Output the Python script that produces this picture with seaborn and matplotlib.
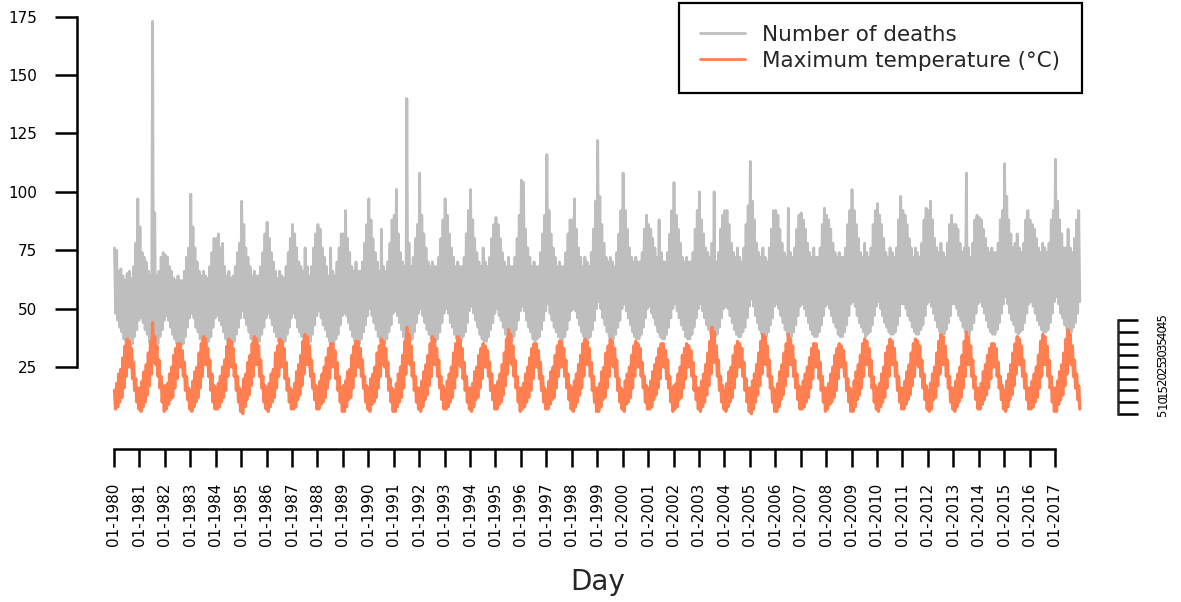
import pandas as pd
import matplotlib
matplotlib.use("Agg")
import matplotlib.pyplot as plt
import matplotlib.dates as mdates
from matplotlib.lines import Line2D
import seaborn as sns

# ---------------------------------------------------------------------------
# Daily series summarised per month: upper / lower envelope of each month
# (Jan..Dec), one row per year 1980-2017.
# ---------------------------------------------------------------------------
years = list(range(1980, 2018))

deaths_high = [
    [76, 75, 66, 67, 64, 62, 65, 66, 63, 68, 78, 97],
    [85, 74, 72, 70, 66, 64, 173, 91, 64, 66, 72, 74],
    [73, 72, 68, 66, 63, 62, 64, 62, 62, 66, 72, 76],
    [99, 85, 76, 70, 66, 64, 66, 64, 63, 68, 74, 80],
    [80, 82, 76, 78, 68, 64, 66, 63, 64, 68, 74, 78],
    [96, 86, 76, 72, 68, 64, 66, 64, 64, 68, 74, 82],
    [87, 80, 74, 70, 66, 63, 66, 64, 63, 68, 74, 80],
    [86, 82, 76, 70, 68, 66, 76, 68, 64, 68, 76, 82],
    [86, 84, 76, 72, 68, 64, 76, 66, 64, 70, 76, 82],
    [82, 92, 80, 74, 68, 66, 70, 66, 66, 70, 78, 86],
    [97, 88, 80, 74, 70, 66, 84, 68, 66, 70, 78, 88],
    [90, 101, 82, 74, 70, 68, 140, 78, 68, 72, 80, 86],
    [108, 90, 82, 76, 70, 68, 70, 68, 68, 72, 80, 88],
    [97, 90, 82, 76, 72, 68, 70, 68, 68, 72, 82, 92],
    [101, 88, 80, 74, 70, 68, 76, 70, 68, 72, 80, 86],
    [89, 86, 80, 74, 70, 68, 72, 68, 68, 72, 80, 90],
    [105, 104, 84, 76, 72, 68, 70, 68, 68, 74, 82, 90],
    [116, 92, 82, 76, 72, 68, 70, 68, 68, 74, 82, 88],
    [88, 97, 84, 76, 72, 68, 72, 70, 68, 74, 84, 96],
    [122, 98, 86, 78, 72, 70, 72, 70, 68, 74, 82, 92],
    [108, 92, 84, 76, 72, 70, 72, 70, 70, 74, 84, 90],
    [86, 84, 80, 76, 72, 88, 74, 70, 70, 74, 82, 92],
    [104, 90, 84, 78, 72, 70, 72, 70, 70, 74, 84, 92],
    [100, 88, 82, 76, 74, 72, 78, 100, 70, 74, 84, 90],
    [92, 92, 86, 78, 74, 72, 76, 72, 70, 76, 86, 94],
    [113, 96, 88, 78, 74, 72, 76, 72, 70, 76, 84, 92],
    [92, 90, 84, 78, 74, 72, 93, 74, 72, 76, 84, 90],
    [91, 88, 84, 78, 74, 72, 76, 72, 72, 76, 86, 93],
    [90, 88, 84, 78, 74, 72, 74, 72, 72, 76, 86, 92],
    [101, 92, 86, 80, 74, 72, 78, 74, 72, 76, 86, 92],
    [95, 90, 86, 80, 74, 72, 76, 74, 72, 76, 88, 98],
    [92, 90, 86, 80, 76, 72, 76, 74, 72, 78, 88, 93],
    [92, 96, 88, 80, 76, 74, 78, 74, 72, 78, 86, 90],
    [86, 86, 84, 78, 74, 76, 108, 76, 72, 78, 88, 90],
    [89, 88, 84, 80, 76, 74, 76, 74, 74, 78, 88, 92],
    [112, 98, 88, 82, 76, 78, 82, 76, 74, 78, 88, 92],
    [88, 86, 84, 80, 76, 74, 78, 76, 74, 78, 88, 92],
    [114, 96, 88, 82, 76, 76, 84, 76, 74, 80, 88, 92],
]

deaths_low = [
    [48, 45, 42, 40, 37, 35, 33, 34, 35, 38, 41, 45],
    [46, 44, 41, 39, 36, 34, 33, 33, 35, 38, 41, 45],
    [47, 45, 42, 39, 37, 35, 34, 34, 35, 38, 42, 46],
    [48, 46, 42, 40, 37, 35, 34, 34, 36, 38, 42, 46],
    [47, 45, 43, 40, 37, 35, 34, 34, 36, 39, 42, 46],
    [49, 46, 43, 40, 37, 35, 34, 35, 36, 39, 42, 46],
    [48, 46, 43, 40, 38, 36, 34, 35, 36, 39, 42, 46],
    [48, 46, 42, 40, 38, 36, 35, 35, 36, 39, 43, 47],
    [49, 46, 43, 41, 38, 36, 35, 35, 37, 39, 43, 47],
    [48, 47, 44, 41, 38, 36, 35, 35, 37, 40, 43, 47],
    [50, 47, 44, 41, 38, 36, 35, 35, 37, 40, 43, 48],
    [49, 47, 44, 41, 38, 36, 36, 36, 37, 40, 44, 48],
    [50, 47, 44, 41, 39, 37, 36, 36, 37, 40, 44, 48],
    [50, 48, 44, 42, 39, 37, 36, 36, 38, 40, 44, 49],
    [51, 48, 45, 42, 39, 37, 36, 36, 38, 41, 44, 48],
    [50, 47, 45, 42, 39, 37, 36, 36, 38, 41, 45, 49],
    [51, 49, 45, 42, 40, 37, 36, 37, 38, 41, 45, 49],
    [52, 48, 45, 42, 40, 38, 37, 37, 38, 41, 45, 49],
    [50, 49, 46, 43, 40, 38, 37, 37, 38, 41, 45, 50],
    [53, 50, 46, 43, 40, 38, 37, 37, 39, 42, 45, 50],
    [52, 49, 46, 43, 40, 38, 37, 37, 39, 42, 46, 50],
    [51, 48, 46, 43, 40, 38, 37, 37, 39, 42, 46, 50],
    [52, 49, 46, 43, 41, 38, 37, 37, 39, 42, 46, 50],
    [52, 49, 46, 43, 41, 39, 38, 38, 39, 42, 46, 50],
    [51, 50, 47, 44, 41, 39, 38, 38, 40, 42, 46, 51],
    [54, 51, 47, 44, 41, 39, 38, 38, 40, 43, 46, 51],
    [52, 50, 47, 44, 41, 39, 38, 38, 40, 43, 47, 51],
    [52, 50, 47, 44, 41, 39, 38, 38, 40, 43, 47, 51],
    [52, 50, 47, 44, 42, 39, 38, 38, 40, 43, 47, 52],
    [53, 51, 47, 44, 42, 40, 38, 39, 40, 43, 47, 51],
    [53, 50, 47, 44, 42, 40, 39, 39, 40, 43, 47, 52],
    [52, 50, 47, 45, 42, 40, 39, 39, 41, 43, 47, 52],
    [53, 51, 48, 45, 42, 40, 39, 39, 41, 44, 47, 52],
    [52, 50, 47, 45, 42, 40, 39, 39, 41, 44, 48, 52],
    [53, 51, 48, 45, 42, 40, 39, 39, 41, 44, 48, 52],
    [55, 52, 48, 45, 43, 40, 39, 40, 41, 44, 48, 52],
    [53, 51, 48, 45, 43, 41, 40, 40, 41, 44, 48, 53],
    [55, 52, 48, 46, 43, 41, 40, 40, 42, 44, 48, 53],
]

tmax_high = [
    [15, 18, 22, 24, 29, 34, 37, 36, 33, 27, 20, 16],
    [16, 19, 23, 26, 31, 36, 44, 38, 34, 28, 21, 17],
    [17, 18, 22, 25, 30, 33, 35, 35, 32, 27, 21, 16],
    [15, 19, 23, 25, 31, 35, 38, 37, 33, 28, 22, 17],
    [16, 18, 21, 25, 28, 34, 37, 36, 33, 26, 21, 16],
    [15, 20, 22, 27, 30, 35, 38, 37, 34, 28, 21, 17],
    [16, 18, 22, 24, 31, 34, 37, 36, 33, 27, 20, 16],
    [15, 18, 23, 26, 30, 36, 39, 38, 34, 28, 22, 17],
    [16, 19, 22, 25, 29, 33, 35, 35, 32, 27, 21, 16],
    [17, 19, 23, 24, 30, 34, 36, 36, 33, 28, 21, 17],
    [16, 20, 22, 25, 31, 34, 37, 36, 33, 27, 20, 16],
    [15, 18, 22, 25, 30, 36, 42, 39, 34, 27, 21, 16],
    [16, 19, 23, 26, 30, 35, 38, 37, 33, 28, 21, 17],
    [15, 19, 22, 25, 31, 35, 38, 37, 33, 27, 21, 16],
    [16, 18, 23, 25, 30, 33, 35, 34, 32, 27, 22, 17],
    [17, 19, 22, 26, 31, 37, 41, 39, 34, 28, 21, 16],
    [16, 18, 22, 25, 29, 33, 35, 35, 32, 27, 21, 16],
    [15, 19, 23, 25, 30, 34, 36, 36, 33, 28, 22, 17],
    [16, 19, 22, 26, 30, 35, 37, 36, 33, 27, 21, 16],
    [16, 18, 23, 25, 31, 34, 37, 36, 33, 28, 20, 16],
    [15, 19, 22, 25, 30, 34, 36, 35, 33, 27, 21, 17],
    [16, 19, 23, 26, 29, 33, 35, 35, 32, 28, 21, 16],
    [17, 18, 22, 25, 30, 33, 35, 34, 32, 27, 21, 16],
    [16, 19, 22, 26, 31, 36, 42, 40, 34, 28, 21, 17],
    [15, 18, 23, 25, 30, 34, 36, 35, 33, 27, 20, 16],
    [16, 19, 22, 26, 31, 36, 39, 38, 34, 28, 21, 16],
    [15, 18, 23, 26, 31, 35, 39, 37, 34, 28, 22, 17],
    [16, 19, 22, 25, 29, 33, 35, 35, 32, 27, 21, 16],
    [16, 18, 22, 25, 30, 33, 35, 34, 32, 27, 20, 16],
    [15, 19, 23, 26, 30, 35, 37, 36, 33, 28, 21, 17],
    [16, 18, 22, 25, 31, 34, 37, 36, 33, 27, 21, 16],
    [16, 19, 23, 26, 31, 35, 37, 36, 34, 28, 22, 17],
    [15, 18, 22, 25, 31, 36, 39, 38, 34, 28, 21, 16],
    [16, 19, 22, 25, 30, 36, 40, 38, 34, 28, 21, 16],
    [16, 18, 23, 26, 30, 33, 35, 35, 33, 27, 21, 17],
    [15, 19, 22, 26, 31, 35, 38, 37, 34, 28, 22, 16],
    [16, 19, 22, 25, 30, 36, 39, 38, 34, 28, 21, 16],
    [16, 19, 23, 26, 31, 37, 41, 39, 34, 28, 22, 17],
]

tmax_low = [
    [7, 8, 10, 12, 16, 21, 25, 25, 20, 15, 10, 7],
    [6, 8, 10, 13, 17, 22, 27, 26, 21, 16, 10, 6],
    [7, 9, 11, 12, 16, 20, 25, 25, 21, 15, 11, 7],
    [6, 8, 10, 12, 16, 21, 26, 26, 21, 15, 10, 7],
    [7, 8, 10, 12, 15, 21, 25, 25, 21, 15, 10, 6],
    [5, 8, 11, 13, 17, 21, 26, 26, 21, 16, 10, 7],
    [6, 8, 10, 12, 16, 21, 25, 25, 20, 15, 10, 7],
    [7, 8, 11, 13, 17, 22, 26, 26, 21, 16, 11, 7],
    [7, 9, 10, 12, 16, 20, 25, 25, 20, 15, 10, 6],
    [6, 8, 11, 12, 16, 21, 25, 25, 21, 16, 10, 7],
    [6, 9, 10, 12, 16, 21, 26, 25, 21, 15, 10, 6],
    [6, 8, 10, 12, 16, 22, 27, 26, 21, 15, 10, 7],
    [6, 8, 11, 13, 17, 21, 26, 26, 21, 16, 11, 7],
    [7, 8, 10, 12, 16, 21, 26, 25, 20, 15, 10, 7],
    [6, 8, 11, 12, 16, 20, 25, 25, 21, 15, 11, 7],
    [7, 9, 10, 13, 17, 22, 27, 26, 21, 16, 10, 6],
    [7, 8, 10, 12, 15, 20, 25, 25, 20, 15, 10, 7],
    [7, 9, 11, 12, 16, 21, 25, 25, 21, 16, 11, 7],
    [6, 8, 10, 13, 16, 21, 26, 26, 21, 15, 10, 6],
    [6, 8, 11, 12, 16, 21, 26, 25, 21, 15, 10, 7],
    [6, 9, 10, 12, 16, 21, 25, 25, 21, 16, 10, 7],
    [7, 8, 11, 13, 16, 20, 25, 25, 20, 16, 10, 6],
    [7, 8, 11, 12, 16, 20, 25, 25, 21, 15, 11, 7],
    [6, 8, 10, 13, 17, 22, 27, 27, 21, 15, 10, 7],
    [6, 8, 10, 12, 16, 21, 25, 25, 21, 15, 10, 6],
    [5, 7, 10, 13, 17, 22, 26, 26, 21, 16, 10, 6],
    [6, 8, 11, 13, 17, 21, 26, 26, 21, 16, 11, 7],
    [7, 8, 10, 12, 16, 20, 25, 25, 20, 15, 10, 6],
    [7, 9, 10, 12, 15, 20, 25, 25, 21, 15, 10, 6],
    [6, 8, 11, 13, 16, 21, 26, 26, 21, 16, 10, 7],
    [6, 8, 10, 12, 16, 21, 26, 26, 21, 15, 10, 7],
    [7, 9, 11, 13, 17, 21, 26, 25, 21, 16, 11, 7],
    [6, 7, 11, 12, 17, 22, 26, 26, 21, 16, 10, 7],
    [6, 8, 10, 12, 16, 21, 26, 26, 21, 16, 11, 7],
    [7, 9, 11, 13, 16, 20, 25, 25, 21, 16, 11, 7],
    [6, 8, 11, 13, 17, 22, 26, 26, 21, 16, 11, 7],
    [7, 8, 10, 12, 16, 21, 26, 26, 21, 16, 10, 6],
    [6, 9, 11, 13, 17, 22, 27, 26, 21, 16, 11, 7],
]

deaths_label = "Number of deaths"
temp_label = "Maximum temperature (\u00b0C)"
left_ticks = [25, 50, 75, 100, 125, 150, 175]
right_ticks = [5, 10, 15, 20, 25, 30, 35, 40, 45]

GREY = "#BEBEBE"
CORAL = "#FF7F50"


def monthly_trace(high_rows, low_rows):
    """Alternate each month's upper and lower value so the line sweeps the band."""
    days, values = [], []
    for yr, hi, lo in zip(years, high_rows, low_rows):
        for m in range(12):
            days.append(pd.Timestamp(yr, m + 1, 8))
            values.append(hi[m])
            days.append(pd.Timestamp(yr, m + 1, 23))
            values.append(lo[m])
    return pd.DataFrame({"Day": days, "value": values})


deaths_df = monthly_trace(deaths_high, deaths_low)
temp_df = monthly_trace(tmax_high, tmax_low)

sns.set_style("white")
plt.rcParams["font.family"] = ["DejaVu Sans"]

W, H = 1181, 602
fig = plt.figure(figsize=(W / 100, H / 100), dpi=100)
ax = fig.add_axes([77 / W, (H - 449) / H, (1118 - 77) / W, 448 / H])

sns.lineplot(data=deaths_df, x="Day", y="value", color=GREY, linewidth=2.0,
             estimator=None, sort=False, ax=ax)
sns.lineplot(data=temp_df, x="Day", y="value", color=CORAL, linewidth=2.3,
             estimator=None, sort=False, ax=ax)

# x scale: one tick per 1 January
tick_dates = [pd.Timestamp(y, 1, 1) for y in range(1980, 2018)]
tick_nums = [mdates.date2num(d) for d in tick_dates]
start, end_tick = tick_nums[0], tick_nums[-1]
px_per_day = (1055 - 114) / (end_tick - start)
ax.set_xlim(start - 37 / px_per_day, end_tick + 63 / px_per_day)
ax.set_ylim(-10.1, 181.7)

ax.set_xticks(tick_nums)
ax.set_xticklabels([d.strftime("%m-%Y") for d in tick_dates], rotation=90,
                   fontsize=11)
ax.set_yticks(left_ticks)
ax.set_yticklabels([str(v) for v in left_ticks], fontsize=11)

for side in ("top", "right"):
    ax.spines[side].set_visible(False)
for side in ("left", "bottom"):
    ax.spines[side].set_linewidth(1.8)
    ax.spines[side].set_color("black")
ax.spines["left"].set_bounds(25, 175)
ax.spines["bottom"].set_bounds(start, end_tick)

ax.tick_params(axis="y", which="major", direction="out", length=16, width=1.8,
               pad=13, colors="black", left=True)
ax.tick_params(axis="x", which="major", direction="out", length=13, width=1.8,
               pad=11, colors="black", bottom=True)

ax.set_ylabel("")
ax.set_xlabel("Day", fontsize=20)
ax.xaxis.set_label_coords(0.5, -0.265)

# second scale on the right for temperature
sec = ax.secondary_yaxis("right")
sec.set_yticks(right_ticks)
sec.set_yticklabels([str(v) for v in right_ticks], fontsize=8.5, rotation=90,
                    va="center", ha="left")
sec.spines["right"].set_bounds(5, 45)
sec.spines["right"].set_linewidth(1.8)
sec.tick_params(axis="y", direction="out", length=14.5, width=1.8, pad=13,
                colors="black")

handles = [Line2D([], [], color=GREY, linewidth=2),
           Line2D([], [], color=CORAL, linewidth=2)]
leg = fig.legend(handles, [deaths_label, temp_label], loc="upper right",
                 bbox_to_anchor=(1082 / W, 1 - 3 / H), fontsize=15.5,
                 frameon=True, fancybox=False, shadow=False, framealpha=1,
                 borderpad=1.0, handlelength=2.1, handletextpad=0.8,
                 labelspacing=0.3, borderaxespad=0)
leg.get_frame().set_edgecolor("black")
leg.get_frame().set_linewidth(1.6)

fig.savefig("out.png", dpi=100, facecolor="white")
